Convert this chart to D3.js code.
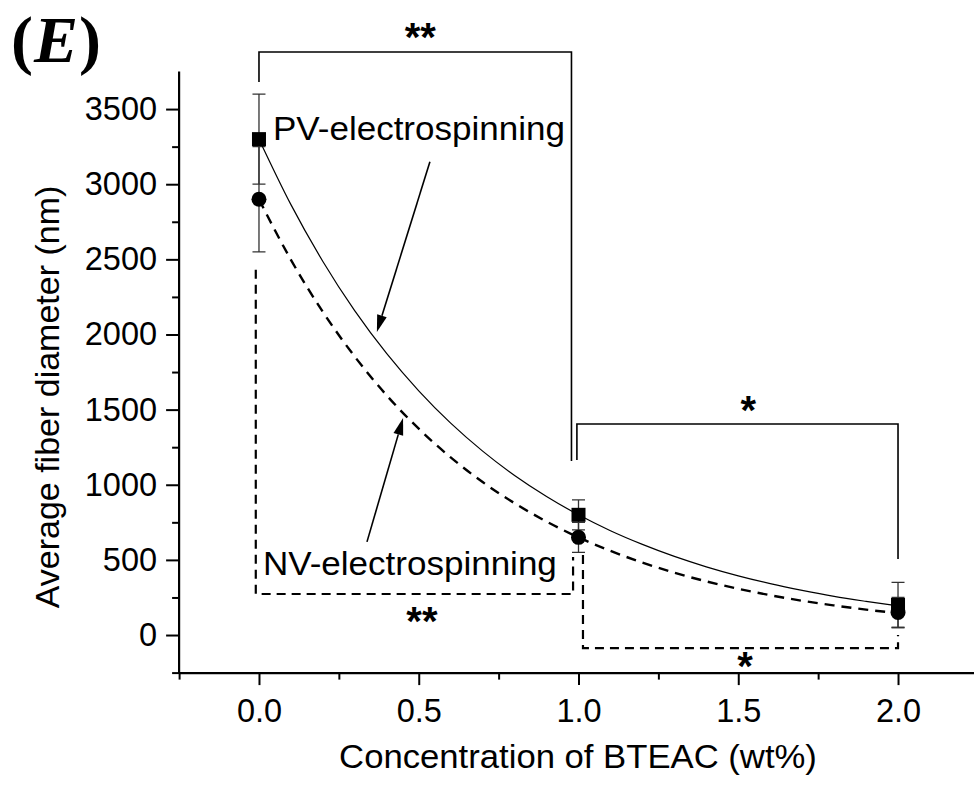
<!DOCTYPE html>
<html>
<head>
<meta charset="utf-8">
<script src="https://cdn.jsdelivr.net/npm/d3@7"></script>
<style>
  html, body { margin: 0; padding: 0; background: #fff; }
  svg { display: block; }
  text { font-family: "Liberation Sans", Arial, sans-serif; fill: #000; }
</style>
</head>
<body>
<div id="chart"></div>
<script>
// ---------------- data ----------------
const concentrations = [0, 1, 2];
const pvMeans = [3300, 800, 200];
const pvErrors = [300, 100, 150];
const nvMeans = [2900, 650, 150];
const nvErrors = [350, 100, 100];

// fitted curves
const fitX = [0, 0.1, 0.2, 0.3, 0.4, 0.5, 0.6, 0.7, 0.8, 0.9, 1.0,
              1.1, 1.2, 1.3, 1.4, 1.5, 1.6, 1.7, 1.8, 1.9, 2.0];
const pvFitY = [3300, 2864, 2486, 2157, 1872, 1625, 1410, 1224, 1062, 922, 800,
                694, 603, 523, 454, 394, 342, 297, 257, 224, 194];
const nvFitY = [2900, 2497, 2150, 1852, 1594, 1373, 1182, 1018, 877, 755, 650,
                560, 482, 415, 357, 308, 265, 228, 197, 169, 146];

const xMajorTicks = [0, 0.5, 1.0, 1.5, 2.0];
const xMinorTicks = [-0.25, 0.25, 0.75, 1.25, 1.75, 2.25];
const yMajorTicks = [0, 500, 1000, 1500, 2000, 2500, 3000, 3500];
const yMinorTicks = [-250, 250, 750, 1250, 1750, 2250, 2750, 3250];

const xTitle = "Concentration of BTEAC (wt%)";
const yTitle = "Average fiber diameter (nm)";
const panelLetter = "E";
const pvLabel = "PV-electrospinning";
const nvLabel = "NV-electrospinning";

// significance brackets (data coordinates)
const solidBrackets = [
  { x1: 0, x2: 0.978, yTop: 3880, yLeft: 3680, yRight: 1158, label: "**", lx: 0.505, ly: 4000 },
  { x1: 0.995, x2: 2.0, yTop: 1404, yLeft: 1164, yRight: 506, label: "*", lx: 1.531, ly: 1520 }
];
const dashedBrackets = [
  { x1: -0.01, x2: 0.983, yBot: 273, yLeft: 2430, yRight: 519, label: "**", lx: 0.51, ly: 112 },
  { x1: 1.014, x2: 2.0, yBot: -87, yLeft: 532, yRight: 0, label: "*", lx: 1.521, ly: -185 }
];
// annotation arrows (data coordinates)
const arrows = [
  { x1: 0.535, y1: 3150, x2: 0.369, y2: 2016 },
  { x1: 0.338, y1: 620, x2: 0.451, y2: 1444 }
];

// ---------------- layout ----------------
const W = 974, H = 785;
const svg = d3.select("#chart").append("svg").attr("width", W).attr("height", H);

const x = d3.scaleLinear().domain([-0.25, 2.25]).range([179.1, 977.9]);
const y = d3.scaleLinear().domain([-250, 3750]).range([672.6, 71.5]);

function addText(g, px, py, str, opts) {
  const o = Object.assign({ size: 32, sx: 1, anchor: "start", weight: "normal", rotate: 0, style: "normal", family: null }, opts || {});
  const t = g.append("text")
    .attr("transform", `translate(${px},${py}) rotate(${o.rotate}) scale(${o.sx},1)`)
    .attr("text-anchor", o.anchor)
    .attr("font-size", o.size)
    .attr("font-weight", o.weight)
    .attr("font-style", o.style)
    .text(str);
  if (o.family) t.style("font-family", o.family);
  return t;
}

// ---------------- axes ----------------
const axisG = svg.append("g");
const xAxisMajor = d3.axisBottom(x).tickValues(xMajorTicks).tickFormat(d3.format(".1f"))
  .tickSize(12.5).tickSizeOuter(0).tickPadding(14);
const xAxisMinor = d3.axisBottom(x).tickValues(xMinorTicks).tickFormat("")
  .tickSize(7).tickSizeOuter(0);
const yAxisMajor = d3.axisLeft(y).tickValues(yMajorTicks).tickFormat(d3.format("d"))
  .tickSize(13).tickSizeOuter(0).tickPadding(9);
const yAxisMinor = d3.axisLeft(y).tickValues(yMinorTicks).tickFormat("")
  .tickSize(7).tickSizeOuter(0);

const gx = axisG.append("g").attr("transform", `translate(0,${y(-250)})`).call(xAxisMajor);
const gxm = axisG.append("g").attr("transform", `translate(0,${y(-250)})`).call(xAxisMinor);
const gy = axisG.append("g").attr("transform", `translate(${x(-0.25)},0)`).call(yAxisMajor);
const gym = axisG.append("g").attr("transform", `translate(${x(-0.25)},0)`).call(yAxisMinor);
gxm.select(".domain").remove();
gym.select(".domain").remove();
[gx, gxm, gy, gym].forEach(g => {
  g.selectAll("path.domain").attr("stroke", "#000").attr("stroke-width", 2.2);
  g.selectAll(".tick line").attr("stroke", "#000").attr("stroke-width", 2);
  g.selectAll(".tick text").attr("font-size", 32.5).attr("fill", "#000")
    .style("font-family", '"Liberation Sans", Arial, sans-serif');
});
gy.select(".domain").attr("d", `M0,${y(3750)}V${y(-250) + 1.5}`);

// titles
addText(svg, 578, 768, xTitle, { size: 34, anchor: "middle", sx: 1.02 });
addText(svg, 59, 397, yTitle, { size: 34, anchor: "middle", rotate: -90 });

// panel label "(E)" : upright parentheses, bold italic letter
const pl = svg.append("text").attr("x", 11).attr("y", 62)
  .attr("font-size", 66).attr("font-weight", "bold")
  .style("font-family", '"Liberation Serif", "Times New Roman", serif');
pl.append("tspan").text("(");
pl.append("tspan").attr("font-style", "italic").attr("dx", 1).text(panelLetter);
pl.append("tspan").attr("dx", 1).text(")");

// ---------------- plot elements ----------------
const plot = svg.append("g");
const starSize = 40, starCenter = 0.43;

// brackets
solidBrackets.forEach(b => {
  plot.append("path")
    .attr("d", `M${x(b.x1)},${y(b.yLeft)}V${y(b.yTop)}H${x(b.x2)}V${y(b.yRight)}`)
    .attr("fill", "none").attr("stroke", "#000").attr("stroke-width", 1.6);
  addText(plot, x(b.lx), y(b.ly) + starCenter * starSize, b.label, { size: starSize, weight: "bold", anchor: "middle" });
});
dashedBrackets.forEach(b => {
  plot.append("path")
    .attr("d", `M${x(b.x1)},${y(b.yLeft)}V${y(b.yBot)}H${x(b.x2)}V${y(b.yRight)}`)
    .attr("fill", "none").attr("stroke", "#000").attr("stroke-width", 2.2)
    .attr("stroke-dasharray", "9,6");
  addText(plot, x(b.lx), y(b.ly) + starCenter * starSize, b.label, { size: starSize, weight: "bold", anchor: "middle" });
});

// error bars
function errorBars(means, errs) {
  const g = plot.append("g").attr("stroke", "#333").attr("stroke-width", 1.3).attr("fill", "none");
  concentrations.forEach((c, i) => {
    const cx = x(c), top = y(means[i] + errs[i]), bot = y(means[i] - errs[i]);
    g.append("path").attr("d", `M${cx},${top}V${bot}M${cx - 6.5},${top}H${cx + 6.5}M${cx - 6.5},${bot}H${cx + 6.5}`);
  });
}
errorBars(pvMeans, pvErrors);
errorBars(nvMeans, nvErrors);

// fit curves
const line = d3.line().x((d, i) => x(fitX[i])).y(d => y(d)).curve(d3.curveMonotoneX);
plot.append("path").datum(pvFitY).attr("d", line)
  .attr("fill", "none").attr("stroke", "#000").attr("stroke-width", 1.2);
plot.append("path").datum(nvFitY).attr("d", line)
  .attr("fill", "none").attr("stroke", "#000").attr("stroke-width", 2.4)
  .attr("stroke-dasharray", "10,7");

// markers
plot.selectAll("rect.pv").data(pvMeans).enter().append("rect")
  .attr("x", (d, i) => x(concentrations[i]) - 7).attr("y", d => y(d) - 7)
  .attr("width", 14).attr("height", 14).attr("fill", "#000");
plot.selectAll("circle.nv").data(nvMeans).enter().append("circle")
  .attr("cx", (d, i) => x(concentrations[i])).attr("cy", d => y(d))
  .attr("r", 7.5).attr("fill", "#000");

// annotation labels
addText(plot, 273, 140, pvLabel, { size: 34, sx: 1.03 });
addText(plot, 263, 575, nvLabel, { size: 34, sx: 1.03 });

// arrows
arrows.forEach(a => {
  const x1 = x(a.x1), y1 = y(a.y1), x2 = x(a.x2), y2 = y(a.y2);
  const ang = Math.atan2(y2 - y1, x2 - x1);
  const len = 17, hw = 5;
  const bx = x2 - len * Math.cos(ang), by = y2 - len * Math.sin(ang);
  plot.append("line").attr("x1", x1).attr("y1", y1).attr("x2", bx).attr("y2", by)
    .attr("stroke", "#000").attr("stroke-width", 1.6);
  const px = -Math.sin(ang) * hw, py = Math.cos(ang) * hw;
  plot.append("path")
    .attr("d", `M${x2},${y2}L${bx + px},${by + py}L${bx - px},${by - py}Z`)
    .attr("fill", "#000");
});
</script>
</body>
</html>
